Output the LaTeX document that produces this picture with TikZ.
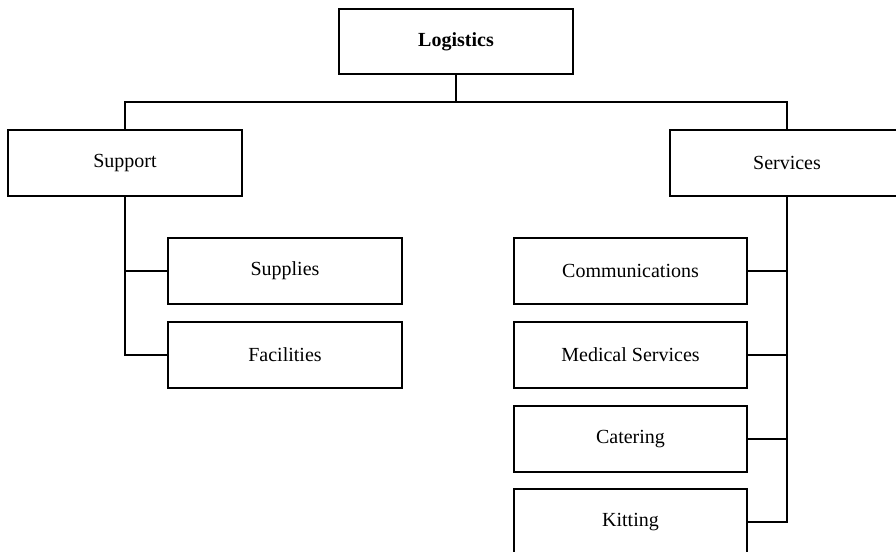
\documentclass[tikz,border=0pt]{standalone}
\usepackage{fontspec}
\setmainfont{Liberation Serif}
\usetikzlibrary{positioning}

\tikzset{every picture/.style={line width=1.4pt}}
\tikzset{unitbox/.style={draw, line width=1.4pt, inner sep=0pt, minimum width=175pt, minimum height=49pt, font=\fontsize{15}{18}\selectfont}}

\begin{document}
\begin{tikzpicture}[x=0.75pt,y=0.75pt,yscale=-1,xscale=1]
	\useasboundingbox (0,0) rectangle (896,552);
	\clip (0,0) rectangle (896,552);
	% Top node
	\draw (456,41.5) node [unitbox] (log) {\textbf{Logistics}};
	% Second level
	\draw (125,163) node [unitbox] (sup) {Support};
	\draw (787,163) node [unitbox] (srv) {Services};
	% Support children
	\draw (285,271) node [unitbox] (sply) {Supplies};
	\draw (285,355) node [unitbox] (fac) {Facilities};
	% Services children
	\draw (630.5,271) node [unitbox] (com) {Communications};
	\draw (630.5,355) node [unitbox] (med) {Medical Services};
	\draw (630.5,439) node [unitbox] (cat) {Catering};
	\draw (630.5,522) node [unitbox] (kit) {Kitting};
	% Connectors
	\coordinate (bus) at (456,102);
	\draw (log.south) -- (bus);
	\draw (sup.north) -- (sup.north |- bus) -- (srv.north |- bus) -- (srv.north);
	\draw (sup.south) |- (sply.west);
	\draw (sup.south) |- (fac.west);
	\draw (srv.south) |- (com.east);
	\draw (srv.south) |- (med.east);
	\draw (srv.south) |- (cat.east);
	\draw (srv.south) |- (kit.east);
\end{tikzpicture}
\end{document}
